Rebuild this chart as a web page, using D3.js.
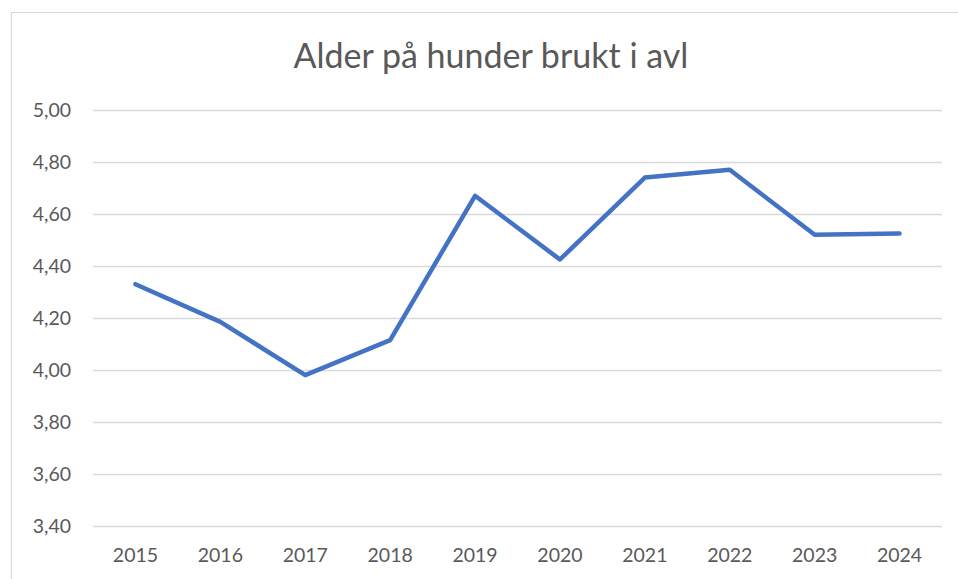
<!DOCTYPE html>
<html>
<head>
<meta charset="utf-8">
<script src="https://cdn.jsdelivr.net/npm/d3@7"></script>
<style>
body { margin: 0; background: #fff; }
text { font-family: Lato, "Open Sans", sans-serif; fill: #595959; }
</style>
</head>
<body>
<script>
var years = ["2015", "2016", "2017", "2018", "2019", "2020", "2021", "2022", "2023", "2024"];
var ages = [4.33, 4.185, 3.98, 4.115, 4.67, 4.425, 4.74, 4.77, 4.52, 4.525];
var yTicks = [3.4, 3.6, 3.8, 4.0, 4.2, 4.4, 4.6, 4.8, 5.0];
var title = "Alder på hunder brukt i avl";

var width = 958, height = 579;
var plotLeft = 93, plotRight = 942, plotTop = 110, plotBottom = 526;

var svg = d3.select('body')
    .append('svg')
    .attr('width', width)
    .attr('height', height);

// chart frame
svg.append('rect')
    .attr('x', 11.5)
    .attr('y', 12.5)
    .attr('width', 960)
    .attr('height', 600)
    .attr('fill', 'none')
    .attr('stroke', '#d9d9d9')
    .attr('stroke-width', 1.2);

var x = d3.scaleBand().domain(years).range([plotLeft, plotRight]);
var y = d3.scaleLinear().domain([3.4, 5.0]).range([plotBottom, plotTop]);

var fmt = d => d.toFixed(2).replace('.', ',');

svg.append('text')
    .text(title)
    .attr('x', 491)
    .attr('y', 68)
    .attr('text-anchor', 'middle')
    .attr('font-size', 34);

var yAxis = svg.append('g')
    .attr('transform', `translate(${plotLeft},0)`)
    .call(d3.axisLeft(y).tickValues(yTicks).tickFormat(fmt).tickSize(-(plotRight - plotLeft)).tickPadding(22));
yAxis.select('.domain').remove();
yAxis.selectAll('line').attr('stroke', '#d9d9d9').attr('stroke-width', 1.5);
yAxis.selectAll('text').attr('font-size', 19.5).attr('fill', '#595959');

var xAxis = svg.append('g')
    .attr('transform', `translate(0,${plotBottom})`)
    .call(d3.axisBottom(x).tickSize(0).tickPadding(22));
xAxis.select('.domain').remove();
xAxis.selectAll('text').attr('font-size', 19.5).attr('fill', '#595959');

var line = d3.line()
    .x((d, i) => x(years[i]) + x.bandwidth() / 2)
    .y(d => y(d));

svg.append('path')
    .datum(ages)
    .attr('d', line)
    .attr('fill', 'none')
    .attr('stroke', '#4472C4')
    .attr('stroke-width', 4.5)
    .attr('stroke-linejoin', 'round')
    .attr('stroke-linecap', 'round');
</script>
</body>
</html>
